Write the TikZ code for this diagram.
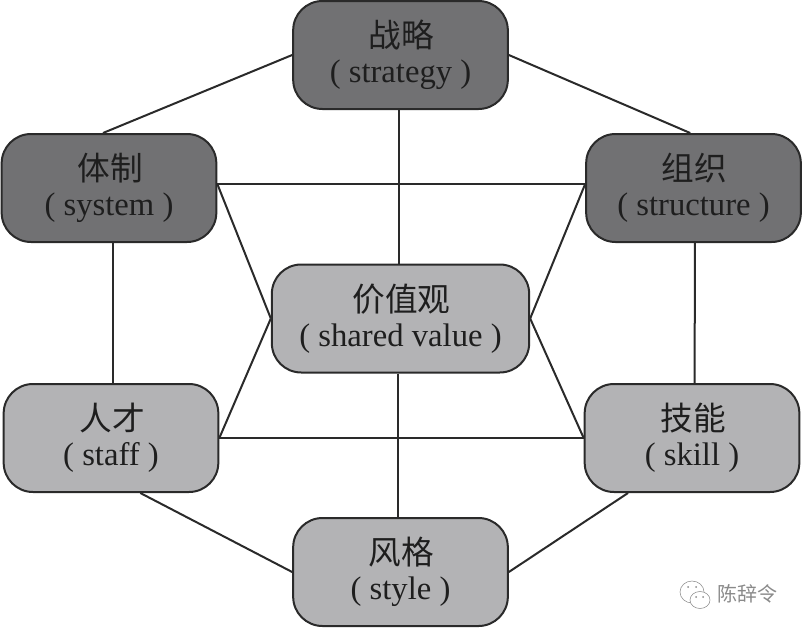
\documentclass[tikz,border=0pt]{standalone}
\usepackage{fontspec}
\setmainfont{Liberation Serif}
\newfontfamily\cjk{Noto Sans CJK SC}
\definecolor{darkbox}{HTML}{717173}
\definecolor{lightbox}{HTML}{B3B3B5}
\definecolor{inkline}{HTML}{2A2A2A}
\definecolor{txt}{HTML}{1E1E1E}
\definecolor{wmgray}{HTML}{8A8A8A}
\tikzset{
  boxbase/.style={draw=inkline,line width=1.5pt,rounded corners=22pt,minimum height=81pt,inner sep=0pt,
    align=center,text=txt,font=\fontsize{24.5}{26}\selectfont},
  darkb/.style={boxbase,fill=darkbox,minimum width=161pt},
  lightb/.style={boxbase,fill=lightbox,minimum width=161pt},
  conn/.style={draw=inkline,line width=1.5pt},
  bubble/.style={draw=wmgray,line width=0.4pt,fill=white},
  wmeye/.style={fill=wmgray,draw=none},
}
\newcommand{\boxtxt}[2]{{\hspace*{1.5pt}\cjk #1}\\( #2 )}
\begin{document}
\begin{tikzpicture}[x=0.75pt,y=-0.75pt]
\useasboundingbox (0,0) rectangle (802,628);
\node[darkb] (strategy) at (400.5,55) {\boxtxt{战略}{strategy}};
\node[darkb] (system) at (109,188) {\boxtxt{体制}{system}};
\node[darkb] (structure) at (693.5,188) {\boxtxt{组织}{structure}};
\node[lightb,minimum width=193pt] (shared) at (400.5,318.5) {\boxtxt{价值观}{shared value}};
\node[lightb] (staff) at (111,438) {\boxtxt{人才}{staff}};
\node[lightb] (skill) at (692,438) {\boxtxt{技能}{skill}};
\node[lightb] (style) at (400.5,572) {\boxtxt{风格}{style}};
\draw[conn] (strategy.west) -- ([xshift=-4.5pt]system.north);
\draw[conn] (strategy.east) -- ([xshift=-2.5pt]structure.north);
\draw[conn] ([yshift=3pt]system.east) -- ([yshift=3pt]structure.west);
\draw[conn] ([yshift=3pt]system.east) -- (shared.west);
\draw[conn] ([yshift=3pt]structure.west) -- (shared.east);
\draw[conn] (staff.east) -- (shared.west);
\draw[conn] (skill.west) -- (shared.east);
\draw[conn] (staff.east) -- (skill.west);
\draw[conn] ([xshift=-1pt]strategy.south) -- ([xshift=-1pt]shared.north);
\draw[conn] ([xshift=-2pt]shared.south) -- ([xshift=-2pt]style.north);
\draw[conn] ([xshift=3pt]system.south) -- ([xshift=1.5pt]staff.north);
\draw[conn] ([xshift=1pt]structure.south) -- ([xshift=2pt]skill.north);
\draw[conn] ([xshift=22pt]staff.south) -- (style.west);
\draw[conn] ([xshift=-48pt]skill.south) -- (style.east);
% watermark
\draw[bubble] (692,592) ellipse (12 and 11);
\draw[wmeye] (688,587) circle (1) (696,587) circle (1);
\draw[bubble] (700,600) ellipse (10 and 8.5);
\draw[wmeye] (696,597) circle (1) (703,597) circle (1);
\node[text=wmgray,font=\cjk\fontsize{15}{15}\selectfont,inner sep=0pt] (wm) at (747,594) {陈辞令};
\end{tikzpicture}
\end{document}
